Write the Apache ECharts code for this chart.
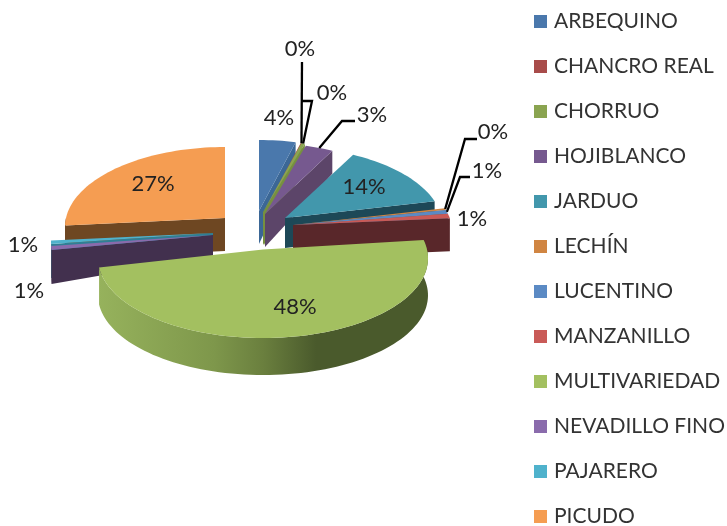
<!DOCTYPE html>
<html><head><meta charset="utf-8">
<style>html,body{margin:0;padding:0;background:#fff}#c{width:727px;height:526px}</style>
<script src="https://cdn.jsdelivr.net/npm/echarts@6/dist/echarts.min.js"></script>
</head><body><div id="c"></div>
<script>
const categories=['ARBEQUINO','CHANCRO REAL','CHORRUO','HOJIBLANCO','JARDUO','LECHÍN','LUCENTINO','MANZANILLO','MULTIVARIEDAD','NEVADILLO FINO','PAJARERO','PICUDO'];
const values=[4.1,0.2,0.4,3.2,13.6,0.4,0.8,0.9,48.4,0.8,0.7,26.5];
const topColors=['#4A78AC','#A84C4A','#8AA450','#76598F','#4297AC','#D08542','#5B8AC4','#C95A57','#A3C060','#8A6BAC','#4FB2CC','#F59D52'];
const faceColors=['#3B6796','#76903F','#76903F','#5C4569','#1D4857','#8A5A2A','#3F6690','#59272A','#4A5A2C','#42304E','#2F7F95','#6E4722'];
// layout of the exploded 3-D pie (pieces pulled out from one another)
const apexX=[259,264,263,265,285,293,293,293,263,213,213,225];
const apexY=[211,212,212,214,218,225,225,225,249.5,235,233,218];
const radius=[159,159,159,155,157,159,159,159,164,161,161,159];
const rimDepth=[24,24,24,23,30,33,33,33,37,34,34,33];
const apexDepth=[33,33,33,33,30,33,33,33,37,21,21,33];
const turn=[0,0,0,0,0,0,0,0,-2,0,0,0];
const drawOrder=[11,10,0,1,2,3,4,5,6,7,9,8];
const squash=78.8, persp=0.11;
const labelX=[279,300,332,372,364,493,487,472,295,29,23,153];
const labelY=[118,49,93,115,187,132,171,219,307,291,245,184];
const leaderBends=[null,[[302,62]],[[312,101],[302,101]],[[342,121],[355,121]],null,[[465,139],[477,139]],[[460,177],[470,177]],null,null,null,null,null];

const total=values.reduce((a,b)=>a+b,0);
let run=0;
const startA=values.map(v=>{const a=run/total*360;run+=v;return a;});
const endA=startA.map((a,i)=>a+values[i]/total*360);
function rim(i,deg,drop){
  const t=(deg+turn[i])*Math.PI/180,u=Math.sin(t),w=Math.cos(t),d=1+persp*w;
  return [apexX[i]+radius[i]*u/d, apexY[i]-squash*w/d+(drop||0)];
}
function arc(i,a,b,drop){
  const n=Math.max(2,Math.ceil((b-a)/2)),p=[];
  for(let k=0;k<=n;k++)p.push(rim(i,a+(b-a)*k/n,drop));
  return p;
}
function poly(points,fill){return {type:'polygon',shape:{points},style:{fill,stroke:null}};}
function drawSlice(i){
  const a=startA[i],b=endA[i],kids=[];
  const A=[apexX[i],apexY[i]],Ad=[apexX[i],apexY[i]+apexDepth[i]];
  const faceAt=(deg)=>poly([A,rim(i,deg),rim(i,deg,rimDepth[i]),Ad],faceColors[i]);
  if(a+turn[i]>=180)kids.push(faceAt(a));
  if(b+turn[i]<=180)kids.push(faceAt(b));
  const wa=Math.max(a,60),wb=Math.min(b,270);
  if(wb>wa&&b>90&&a<270){
    const fill=i===8?new echarts.graphic.LinearGradient(0,0,1,0,[
      {offset:0,color:'#96B25C'},{offset:.35,color:'#7E974B'},{offset:.5,color:'#6A7F3E'},{offset:.66,color:'#4A5A2C'},{offset:1,color:'#4A5A2C'}]):faceColors[i];
    kids.push(poly(arc(i,wa,wb).concat(arc(i,wa,wb,rimDepth[i]).reverse()),fill));
  }
  kids.push(poly([A].concat(arc(i,a,b)),topColors[i]));
  return {type:'group',children:kids};
}
function drawLabels(){
  const kids=[];
  categories.forEach((c,i)=>{
    if(leaderBends[i]){
      const s=[rim(i,(startA[i]+endA[i])/2)].concat(leaderBends[i]);
      kids.push({type:'polyline',shape:{points:s},style:{stroke:'#000',lineWidth:2.3,fill:null}});
    }
    kids.push({type:'text',style:{x:labelX[i],y:labelY[i],text:Math.round(values[i]/total*100)+'%',
      fill:'#222',font:'22px Lato',align:'center',verticalAlign:'middle'}});
  });
  return {type:'group',children:kids};
}
const series=drawOrder.map(i=>({type:'custom',name:categories[i],coordinateSystem:'none',silent:true,
  animation:false,itemStyle:{color:topColors[i]},data:[values[i]],renderItem:()=>drawSlice(i)}));
series.push({type:'custom',name:'labels',coordinateSystem:'none',silent:true,animation:false,data:[0],renderItem:drawLabels});
const chart=echarts.init(document.getElementById('c'),null,{renderer:'canvas'});
chart.setOption({animation:false,backgroundColor:'#fff',
  legend:{data:categories.map(name=>({name,icon:'rect'})),orient:'vertical',left:534,top:11,height:600,padding:0,itemWidth:13,itemHeight:13,itemGap:24,selectedMode:false,
    textStyle:{fontFamily:'Lato',fontSize:21,color:'#333',padding:[0,0,0,2]}},
  series});
</script></body></html>
